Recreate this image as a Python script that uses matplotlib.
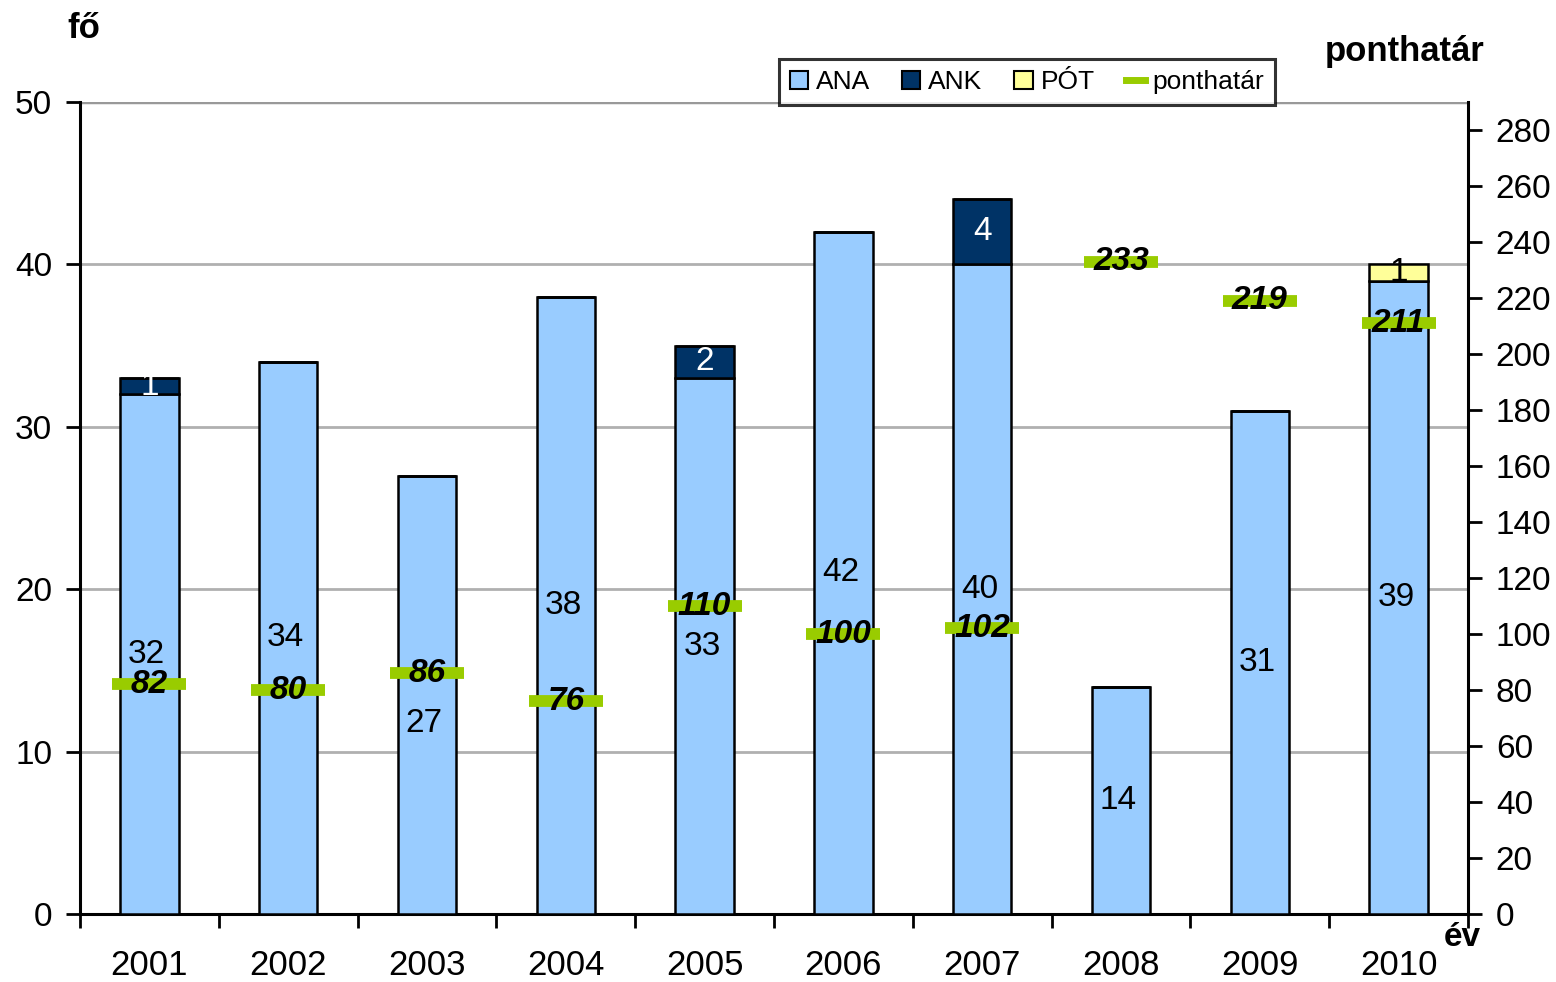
import matplotlib
matplotlib.use("Agg")
import matplotlib.pyplot as plt
import numpy as np
from matplotlib.patches import Patch
from matplotlib.lines import Line2D

plt.rcParams['font.family'] = ['Liberation Sans', 'DejaVu Sans']

years = ['2001', '2002', '2003', '2004', '2005', '2006', '2007', '2008', '2009', '2010']
ana = [32, 34, 27, 38, 33, 42, 40, 14, 31, 39]
ank = [1, 0, 0, 0, 2, 0, 4, 0, 0, 0]
pot = [0, 0, 0, 0, 0, 0, 0, 0, 0, 1]
ponthatar = [82, 80, 86, 76, 110, 100, 102, 233, 219, 211]

c_ana = '#99CCFF'
c_ank = '#003366'
c_pot = '#FFFF99'
c_line = '#99CC00'

fig = plt.figure(figsize=(15.56, 9.82), dpi=100)
ax = fig.add_axes([80/1556, 68/982, 1388/1556, 812/982])
ax2 = ax.twinx()

x = np.arange(len(years))
w = 0.42
ana_a = np.array(ana); ank_a = np.array(ank); pot_a = np.array(pot)
ax.bar(x, ana_a, w, color=c_ana, edgecolor='black', linewidth=1.8, zorder=3)
ax.bar(x, ank_a, w, bottom=ana_a, color=c_ank, edgecolor='black', linewidth=1.8, zorder=3)
ax.bar(x, pot_a, w, bottom=ana_a + ank_a, color=c_pot, edgecolor='black', linewidth=1.8, zorder=3)

fs = 24
# the 2003 ANA label sits lower in the original so it does not collide with the line label
label_shift = {2: -1.8}
for i in range(len(years)):
    ax.text(x[i] - 0.02, ana[i] / 2 + label_shift.get(i, 0), str(ana[i]), ha='center', va='center',
            fontsize=fs, color='black', zorder=5)
    if ank[i] > 0:
        ax.text(x[i], ana[i] + ank[i] / 2, str(ank[i]), ha='center', va='center', fontsize=fs,
                color='white', zorder=5)
    if pot[i] > 0:
        ax.text(x[i], ana[i] + ank[i] + pot[i] / 2, str(pot[i]), ha='center', va='center', fontsize=fs,
                color='black', zorder=5)

ax.set_xlim(-0.5, len(years) - 0.5)
ax.set_ylim(0, 50)
ax.set_yticks(np.arange(0, 51, 10))
ax.yaxis.grid(True, color='#B0B0B0', linewidth=2, zorder=0)
ax.set_axisbelow(True)
ax.set_xticks(np.arange(-0.5, len(years), 1.0))
ax.set_xticklabels([])
ax.set_xticks(x, minor=True)
ax.set_xticklabels(years, minor=True, fontsize=fs + 1)
ax.tick_params(axis='x', which='major', direction='out', length=10, width=2)
ax.tick_params(axis='x', which='minor', length=0, pad=25)
ax.tick_params(axis='y', direction='out', length=10, width=2, labelsize=fs, pad=10)
for s in ['left', 'bottom']:
    ax.spines[s].set_linewidth(2.2)
ax.spines['top'].set_visible(False)
ax.spines['right'].set_visible(False)

ax2.set_ylim(0, 290)
ax2.set_yticks(np.arange(0, 281, 20))
ax2.tick_params(axis='y', direction='out', length=10, width=2, labelsize=fs, pad=10)
ax2.spines['right'].set_linewidth(2.2)
ax2.spines['top'].set_visible(False)
ax2.spines['left'].set_visible(False)
ax2.spines['bottom'].set_visible(False)
ax2.plot(x, ponthatar, linestyle='none', marker='_', markersize=53, markeredgewidth=8.5,
         color=c_line, zorder=4)
for i in range(len(years)):
    ax2.text(x[i], ponthatar[i], str(ponthatar[i]), ha='center', va='center', fontsize=fs,
             fontweight='bold', fontstyle='italic', color='black', zorder=6)

ax.axhline(50, color='#999999', linewidth=2.5, zorder=1)

fig.text(67/1556, 1 - 28/982, 'fő', fontsize=fs + 1, fontweight='bold', ha='left', va='center')
fig.text(1405/1556, 1 - 52/982, 'ponthatár', fontsize=fs + 1, fontweight='bold', ha='center', va='center')
fig.text(1462/1556, 1 - 937/982, 'év', fontsize=fs, fontweight='bold', ha='center', va='center')

handles = [Patch(facecolor=c_ana, edgecolor='black', linewidth=1.5),
           Patch(facecolor=c_ank, edgecolor='black', linewidth=1.5),
           Patch(facecolor=c_pot, edgecolor='black', linewidth=1.5),
           Line2D([0], [0], color=c_line, linewidth=5)]
leg = fig.legend(handles, ['ANA', 'ANK', 'PÓT', 'ponthatár'], ncol=4, loc='center',
                 bbox_to_anchor=(1027/1556, 1 - 82/982), fontsize=19, frameon=True, fancybox=False,
                 handlelength=0.7, handleheight=0.7, handletextpad=0.3, columnspacing=1.2,
                 borderpad=0.4)
leg.get_frame().set_edgecolor('black')
leg.get_frame().set_linewidth(2.2)

fig.savefig('out.png', dpi=100)
